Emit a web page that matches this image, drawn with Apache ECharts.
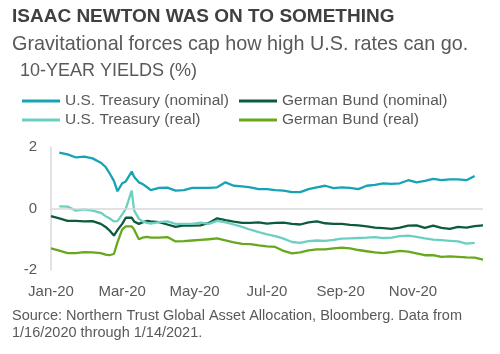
<!DOCTYPE html>
<html>
<head>
<meta charset="utf-8">
<script src="https://cdn.jsdelivr.net/npm/echarts@6/dist/echarts.min.js"></script>
<style>
  html, body { margin: 0; padding: 0; background: #fff; }
  #chart { width: 500px; height: 354px; }
</style>
</head>
<body>
<div id="chart"></div>
<script>
// sample dates (weekly, denser around the March 2020 spike)
const dates = ['2020-01-16','2020-01-23','2020-01-30','2020-02-06','2020-02-13','2020-02-20','2020-02-27',
  '2020-03-02','2020-03-05','2020-03-09','2020-03-12','2020-03-16','2020-03-19','2020-03-24','2020-03-26','2020-03-30',
  '2020-04-02','2020-04-06','2020-04-09','2020-04-16','2020-04-23','2020-04-30',
  '2020-05-07','2020-05-14','2020-05-21','2020-05-28','2020-06-04','2020-06-11','2020-06-18','2020-06-25',
  '2020-07-02','2020-07-09','2020-07-16','2020-07-23','2020-07-30','2020-08-06','2020-08-13','2020-08-20','2020-08-27',
  '2020-09-03','2020-09-10','2020-09-17','2020-09-24','2020-10-01','2020-10-08','2020-10-15','2020-10-22','2020-10-29',
  '2020-11-05','2020-11-12','2020-11-19','2020-11-26','2020-12-03','2020-12-10','2020-12-17','2020-12-24','2020-12-31',
  '2021-01-07','2021-01-14'];

const usNominal = [null, 1.82, 1.76, 1.66, 1.69, 1.63, 1.49,
  1.35, 1.17, 0.9, 0.56, 0.82, 0.88, 1.2, 1.03, 0.85,
  0.8, 0.69, 0.6, 0.67, 0.68, 0.58,
  0.6, 0.67, 0.67, 0.67, 0.69, 0.85, 0.74, 0.72,
  0.69, 0.63, 0.63, 0.6, 0.58, 0.53, 0.53, 0.63, 0.69,
  0.74, 0.66, 0.69, 0.67, 0.63, 0.74, 0.77, 0.82, 0.8,
  0.82, 0.92, 0.85, 0.9, 0.96, 0.92, 0.95, 0.95, 0.92,
  1.06, null];

const usReal = [null, 0.07, 0.06, -0.07, -0.03, -0.07, -0.14,
  -0.25, -0.31, -0.42, -0.41, -0.19, -0.01, 0.58, -0.06, -0.33,
  -0.42, -0.47, -0.49, -0.44, -0.42, -0.5,
  -0.5, -0.5, -0.46, -0.5, -0.4, -0.45, -0.52, -0.6,
  -0.69, -0.77, -0.84, -0.9, -0.98, -1.09, -1.12, -1.06, -1.04,
  -1.05, -1.02, -0.98, -0.97, -0.96, -0.95, -0.93, -0.96, -0.95,
  -0.9, -0.88, -0.92, -0.97, -1.01, -1.03, -1.05, -1.07, -1.14,
  -1.12, null];

const bundNominal = [-0.25, -0.32, -0.4, -0.4, -0.42, -0.41, -0.5,
  -0.6, -0.7, -0.88, -0.7, -0.5, -0.3, -0.3, -0.42, -0.5,
  -0.45, -0.4, -0.42, -0.44, -0.52, -0.6,
  -0.55, -0.56, -0.55, -0.47, -0.32, -0.38, -0.43, -0.47,
  -0.47, -0.45, -0.49, -0.47, -0.46, -0.5, -0.52, -0.45, -0.42,
  -0.48, -0.5, -0.5, -0.53, -0.55, -0.58, -0.62, -0.64, -0.66,
  -0.62, -0.56, -0.55, -0.63, -0.56, -0.63, -0.66, -0.6, -0.62,
  -0.57, -0.55];

const bundReal = [-1.3, -1.37, -1.45, -1.45, -1.42, -1.43, -1.45,
  -1.5, -1.52, -1.48, -1.1, -0.68, -0.58, -0.58, -0.68, -1.0,
  -0.95, -0.92, -0.95, -0.95, -0.93, -1.07,
  -1.06, -1.04, -1.02, -1.0, -0.97, -1.04, -1.1, -1.15,
  -1.16, -1.2, -1.23, -1.25, -1.38, -1.46, -1.43, -1.36, -1.33,
  -1.33, -1.3, -1.27, -1.3, -1.35, -1.39, -1.43, -1.45, -1.42,
  -1.38, -1.4, -1.46, -1.52, -1.52, -1.57, -1.56, -1.57, -1.59,
  -1.6, -1.66];

const tickDates = ['2020-01-16', '2020-03-16', '2020-05-16', '2020-07-16', '2020-09-16', '2020-11-16'];
const monthNames = ['Jan','Feb','Mar','Apr','May','Jun','Jul','Aug','Sep','Oct','Nov','Dec'];

const FONT = 'Liberation Sans, Arial, sans-serif';
const GREY = '#595959';

function toTime(s) {
  const p = s.split('-');
  return new Date(+p[0], +p[1] - 1, +p[2]).getTime();
}
function pairs(vals) {
  return dates.map((d, i) => [toTime(d), vals[i]]);
}

const chart = echarts.init(document.getElementById('chart'));
chart.setOption({
  animation: false,
  title: [
    { text: 'ISAAC NEWTON WAS ON TO SOMETHING', left: 12, top: 7, padding: 0,
      textStyle: { fontFamily: FONT, fontSize: 19, fontWeight: 'bold', color: '#404040' } },
    { text: 'Gravitational forces cap how high U.S. rates can go.', left: 12, top: 35, padding: 0,
      textStyle: { fontFamily: FONT, fontSize: 19.8, fontWeight: 'normal', color: GREY } },
    { text: '10-YEAR YIELDS (%)', left: 20, top: 62, padding: 0,
      textStyle: { fontFamily: FONT, fontSize: 18, fontWeight: 'normal', color: GREY } },
    { text: 'Source: Northern Trust Global Asset Allocation, Bloomberg. Data from\n1/16/2020 through 1/14/2021.',
      left: 12, top: 307, padding: 0,
      textStyle: { fontFamily: FONT, fontSize: 14.5, fontWeight: 'normal', color: GREY, lineHeight: 17 } }
  ],
  legend: [
    { data: ['U.S. Treasury (nominal)', 'U.S. Treasury (real)'], orient: 'vertical', padding: 0,
      left: 22, top: 93, icon: 'rect', itemWidth: 38, itemHeight: 3, itemGap: 3,
      textStyle: { fontFamily: FONT, fontSize: 15.5, color: GREY } },
    { data: ['German Bund (nominal)', 'German Bund (real)'], orient: 'vertical', padding: 0,
      left: 239, top: 93, icon: 'rect', itemWidth: 38, itemHeight: 3, itemGap: 3,
      textStyle: { fontFamily: FONT, fontSize: 15.5, color: GREY } }
  ],
  grid: { left: 51, right: 17, top: 147, bottom: 84 },
  xAxis: {
    type: 'value',
    min: toTime('2020-01-16'),
    max: toTime('2021-01-14'),
    axisLine: { show: false },
    axisTick: { show: false },
    splitLine: { show: false },
    axisLabel: {
      customValues: tickDates.map(toTime),
      margin: 14,
      fontFamily: FONT, fontSize: 15, color: GREY,
      formatter: function (value) {
        const d = new Date(value);
        return monthNames[d.getMonth()] + '-' + String(d.getFullYear()).slice(2);
      }
    }
  },
  yAxis: {
    type: 'value',
    min: -2, max: 2, interval: 2,
    axisLine: { show: true, lineStyle: { color: '#d9d9d9', width: 1.5 } },
    axisTick: { show: false },
    splitLine: { show: false },
    axisLabel: { margin: 14, fontFamily: FONT, fontSize: 15, color: GREY }
  },
  series: [
    { name: 'U.S. Treasury (nominal)', type: 'line', symbol: 'none', data: pairs(usNominal),
      lineStyle: { width: 2.3, color: '#17a3b6' }, itemStyle: { color: '#17a3b6' },
      markLine: { silent: true, symbol: 'none', label: { show: false },
        lineStyle: { color: '#d9d9d9', type: 'solid', width: 1.5 }, data: [{ yAxis: 0 }] } },
    { name: 'German Bund (nominal)', type: 'line', symbol: 'none', data: pairs(bundNominal),
      lineStyle: { width: 2.3, color: '#0e5a3c' }, itemStyle: { color: '#0e5a3c' } },
    { name: 'U.S. Treasury (real)', type: 'line', symbol: 'none', data: pairs(usReal),
      lineStyle: { width: 2.3, color: '#6dcfc1' }, itemStyle: { color: '#6dcfc1' } },
    { name: 'German Bund (real)', type: 'line', symbol: 'none', data: pairs(bundReal),
      lineStyle: { width: 2.3, color: '#67a81c' }, itemStyle: { color: '#67a81c' } }
  ]
});
</script>
</body>
</html>
